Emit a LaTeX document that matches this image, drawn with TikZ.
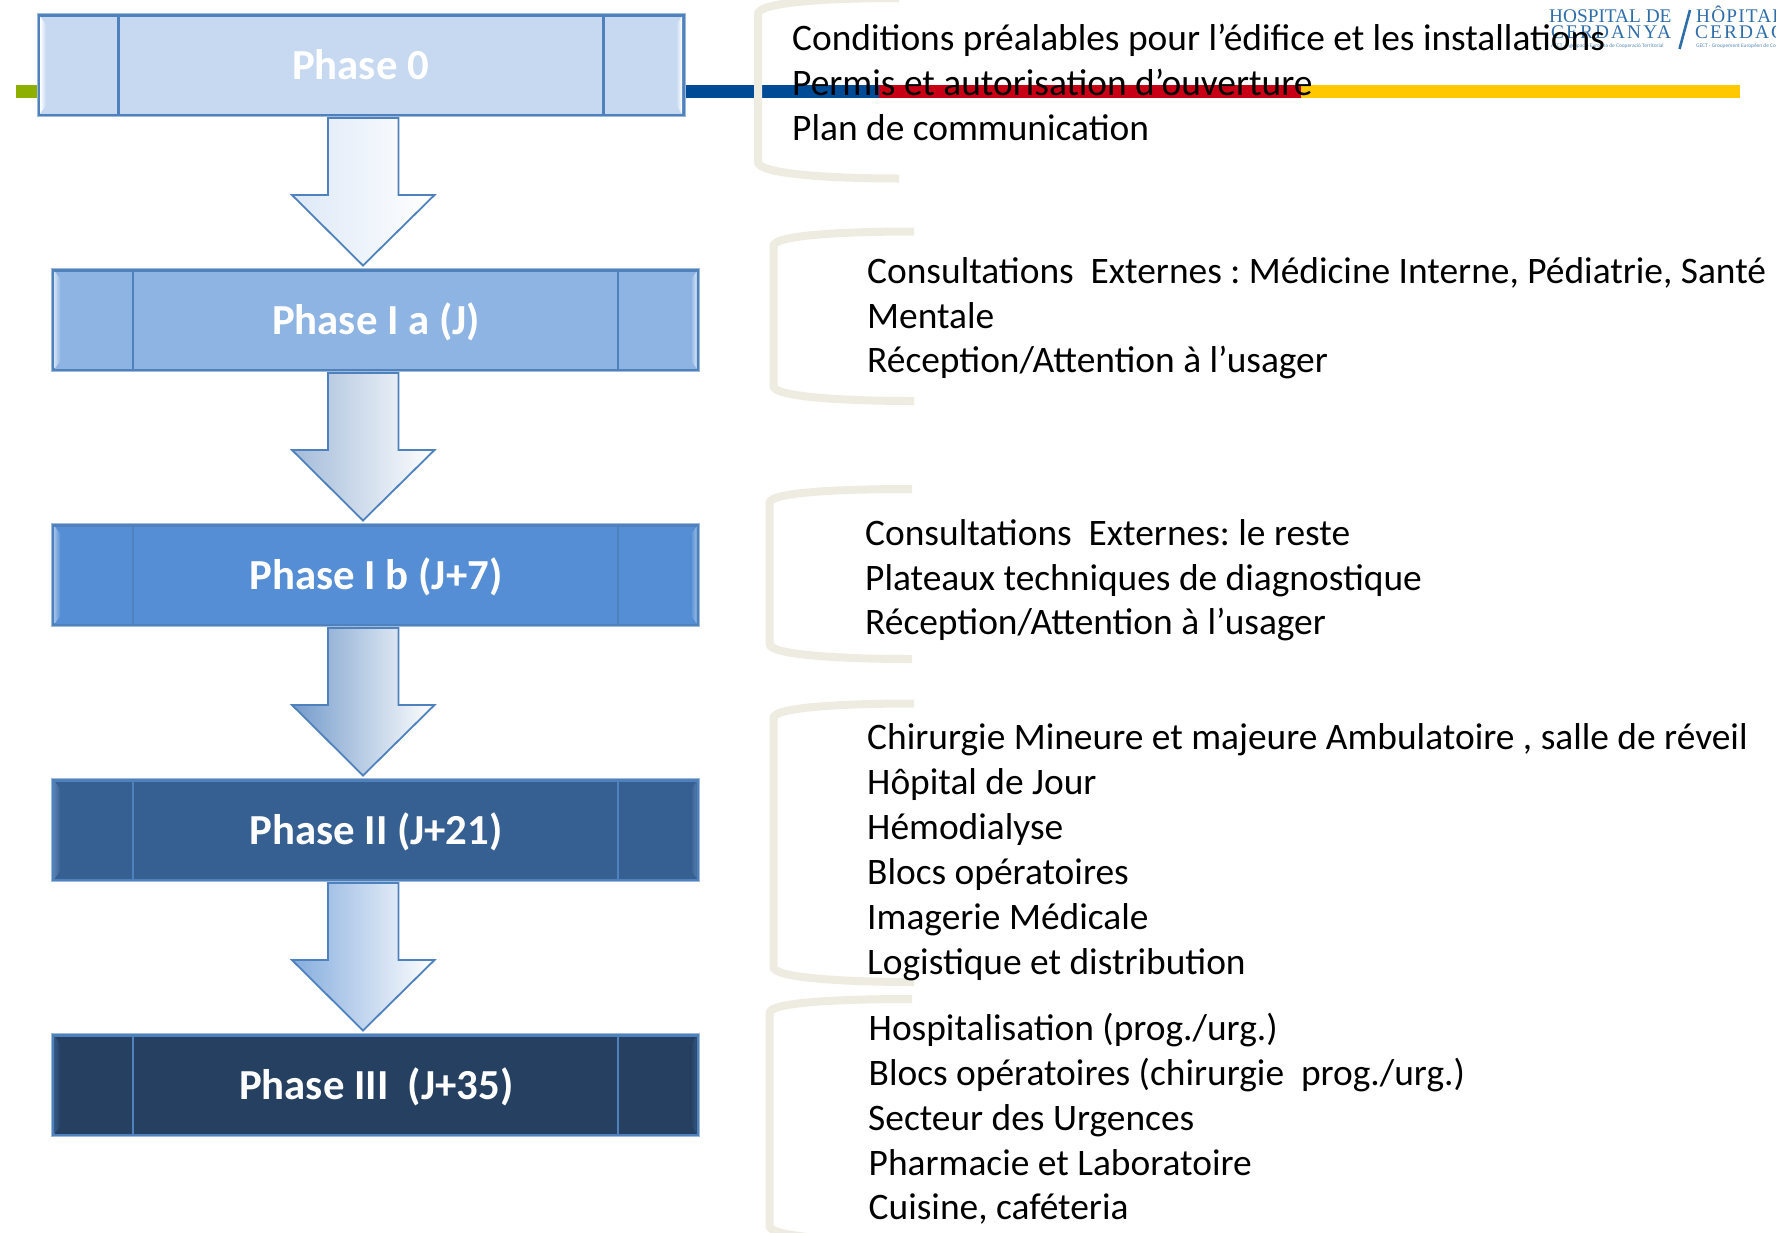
\documentclass[tikz,border=0pt]{standalone}
\usepackage{fontspec}
\setmainfont{Carlito}
\newfontfamily\logofont{Liberation Serif}
\usetikzlibrary{calc}
\definecolor{edgeblue}{HTML}{4F81BD}
\definecolor{bracketc}{HTML}{EEECE1}
\definecolor{stripgreen}{HTML}{8DB000}
\definecolor{stripblue}{HTML}{004B96}
\definecolor{stripred}{HTML}{C70016}
\definecolor{stripyellow}{HTML}{FFC800}
\definecolor{logoblue}{HTML}{2F6EA9}
\tikzset{
  phasebox/.style={draw=edgeblue,line width=3pt,rectangle,inner sep=0pt,minimum height=100pt},
  phasetext/.style={anchor=base,inner sep=0pt,text=white,font=\fontsize{42.8}{48}\selectfont\bfseries},
  listline/.style={anchor=base west,inner sep=0pt,text=black,font=\fontsize{37.4}{44}\selectfont\frenchspacing},
  bracketline/.style={draw=bracketc,line width=8pt,line cap=butt,line join=round},
  divider/.style={draw=edgeblue,line width=2.4pt},
  halo/.style={draw=edgeblue!55!white,line width=1pt},
  flowarrow/.style={draw=edgeblue,line width=1.8pt,line join=miter},
  logotext/.style={anchor=base west,inner sep=0pt,text=logoblue,font=\logofont\fontsize{19.3}{20}\selectfont},
  logotiny/.style={anchor=base west,inner sep=0pt,text=logoblue!80,font=\fontsize{5.4}{6}\selectfont}
}
% #1 name of the top anchor, #2 left colour
\newcommand{\phasearrow}[2]{%
  \shadedraw[flowarrow,left color=#2,right color=white]
    ($(#1)+(-35,0)$) -- ($(#1)+(35.5,0)$) -- ($(#1)+(35.5,77)$) -- ($(#1)+(71.5,77)$)
    -- ($(#1)+(0,147.5)$) -- ($(#1)+(-71,77)$) -- ($(#1)+(-35,77)$) -- cycle;}
% #1 box name, #2 left bevel colour, #3 right bevel colour, #4 fill
\newcommand{\bevels}[4]{%
  \shade[left color=#2,right color=#4]
    ($(#1.north west)+(3,3)$) -- ($(#1.north west)+(9,11)$) -- ($(#1.south west)+(9,-11)$) -- ($(#1.south west)+(3,-3)$) -- cycle;
  \shade[left color=#4,right color=#3]
    ($(#1.north east)+(-3,3)$) -- ($(#1.north east)+(-9,11)$) -- ($(#1.south east)+(-9,-11)$) -- ($(#1.south east)+(-3,-3)$) -- cycle;
  \draw[divider] ($(#1.north west)+(81.5,0)$) -- ($(#1.south west)+(81.5,0)$);
  \draw[divider] ($(#1.north east)+(-81.5,0)$) -- ($(#1.south east)+(-81.5,0)$);
  \draw[halo] (#1.north west) rectangle (#1.south east);}
\begin{document}
\begin{tikzpicture}[x=1pt,y=-1pt]
\useasboundingbox (0,0) rectangle (1776,1232);
\clip (0,0) rectangle (1776,1232);
\fill[white] (0,0) rectangle (1776,1232);
% logo
\node[logotext] (lg1) at (1549,22.7) {HOSPITAL DE};
\node[logotext] (lg2) at (1551,38.6) {\addfontfeatures{LetterSpace=11}CERDANYA};
\node[logotiny] (lg3) at (1551,47.5) {AECT - Agrupació Europea de Cooperació Territorial};
\node[logotext] (lg4) at (1696,22.7) {\addfontfeatures{LetterSpace=6}HÔPITAL};
\node[logotext] (lg5) at (1695,38.6) {\addfontfeatures{LetterSpace=11}CERDAGNE};
\node[logotiny] (lg6) at (1696,47.5) {GECT - Groupement Européen de Coopération Territoriale};
\coordinate (slashA) at (1679.5,49);
\coordinate (slashB) at (1690,10);
\draw[logoblue,line width=2.6pt] (slashA) -- (slashB);
% coloured strip
\fill[stripgreen] (16,85) rectangle (40,98);
\fill[stripblue] (680,85) rectangle (879,98);
\fill[stripred] (878.5,85) rectangle (1300.5,98);
\fill[stripyellow] (1300.5,85) rectangle (1740,98);
% phase boxes
\definecolor{fa}{HTML}{C6D9F1}\definecolor{fb}{HTML}{8EB4E3}\definecolor{fc}{HTML}{558ED5}\definecolor{fd}{HTML}{376092}\definecolor{fe}{HTML}{254061}
\node[phasebox,fill=fa,minimum width=645pt] (b0) at (361,65) {};
\node[phasebox,fill=fb,minimum width=645pt] (b1) at (375.7,320) {};
\node[phasebox,fill=fc,minimum width=645pt] (b2) at (375.7,575) {};
\node[phasebox,fill=fd,minimum width=645pt] (b3) at (375.7,830) {};
\node[phasebox,fill=fe,minimum width=645pt] (b4) at (375.7,1085) {};
\bevels{b0}{white}{white}{fa}
\bevels{b1}{fb!45!white}{fb!35!white}{fb}
\bevels{b2}{fc!60!white}{fc!60!white}{fc}
\bevels{b3}{fd!60!edgeblue!90!white}{fd!60!edgeblue!90!white}{fd}
\bevels{b4}{fe!65!edgeblue}{fe!65!edgeblue}{fe}
\node[phasetext] (t0) at (360.5,79) {Phase 0};
\node[phasetext] (t1) at (376,334) {Phase I a (J)};
\node[phasetext] (t2) at (376,589) {Phase I b (J+7)};
\node[phasetext] (t3) at (376,844) {Phase II (J+21)};
\node[phasetext] (t4) at (376.2,1099) {Phase III\ \ (J+35)};
% arrows
\coordinate (a1) at (363,118);
\coordinate (a2) at (363,373);
\coordinate (a3) at (363,628);
\coordinate (a4) at (363,883);
\phasearrow{a1}{fa!60!white}
\phasearrow{a2}{fa!75!fd}
\phasearrow{a3}{fb!70!fd}
\phasearrow{a4}{fb!85!edgeblue}
% brackets
\draw[bracketline] (899,-2) .. controls (830,-2) and (758,2) .. (758,14) -- (758,162) .. controls (758,174) and (830,178.5) .. (899,178.5);
\draw[bracketline] (914,231.5) .. controls (845,231.5) and (773.5,235) .. (773.5,246) -- (773.5,386) .. controls (773.5,397) and (845,401) .. (914,401);
\draw[bracketline] (912,489) .. controls (842,489) and (769.5,492) .. (769.5,503) -- (769.5,644) .. controls (769.5,655) and (842,659) .. (912,659);
\draw[bracketline] (914,703.5) .. controls (845,703.5) and (773.5,707) .. (773.5,718) -- (773.5,967) .. controls (773.5,978) and (845,982) .. (914,982);
\draw[bracketline] (912,999) .. controls (842,999) and (769.5,1002) .. (769.5,1013) -- (769.5,1226) .. controls (769.5,1237) and (842,1241) .. (912,1241);
% lists
\node[listline] (l1a) at (792,50) {Conditions préalables pour l’édifice et les installations};
\node[listline] (l1b) at (792,95) {Permis et autorisation d’ouverture};
\node[listline] (l1c) at (792,140) {Plan de communication};
\node[listline] (l2a) at (867,283) {Consultations\ \ Externes : Médicine Interne, Pédiatrie, Santé};
\node[listline] (l2b) at (867,328) {Mentale};
\node[listline] (l2c) at (867,372) {Réception/Attention à l’usager};
\node[listline] (l3a) at (865,545) {Consultations\ \ Externes: le reste};
\node[listline] (l3b) at (865,590) {Plateaux techniques de diagnostique};
\node[listline] (l3c) at (865,634) {Réception/Attention à l’usager};
\node[listline] (l4a) at (867,749) {Chirurgie Mineure et majeure Ambulatoire , salle de réveil};
\node[listline] (l4b) at (867,794) {Hôpital de Jour};
\node[listline] (l4c) at (867,839) {Hémodialyse};
\node[listline] (l4d) at (867,884) {Blocs opératoires};
\node[listline] (l4e) at (867,929) {Imagerie Médicale};
\node[listline] (l4f) at (867,974) {Logistique et distribution};
\node[listline] (l5a) at (868.5,1040) {Hospitalisation (prog./urg.)};
\node[listline] (l5b) at (868.5,1085) {Blocs opératoires (chirurgie\ \ prog./urg.)};
\node[listline] (l5c) at (868,1130) {Secteur des Urgences};
\node[listline] (l5d) at (868.5,1175) {Pharmacie et Laboratoire};
\node[listline] (l5e) at (868.5,1219) {Cuisine, caféteria};
\end{tikzpicture}
\end{document}
